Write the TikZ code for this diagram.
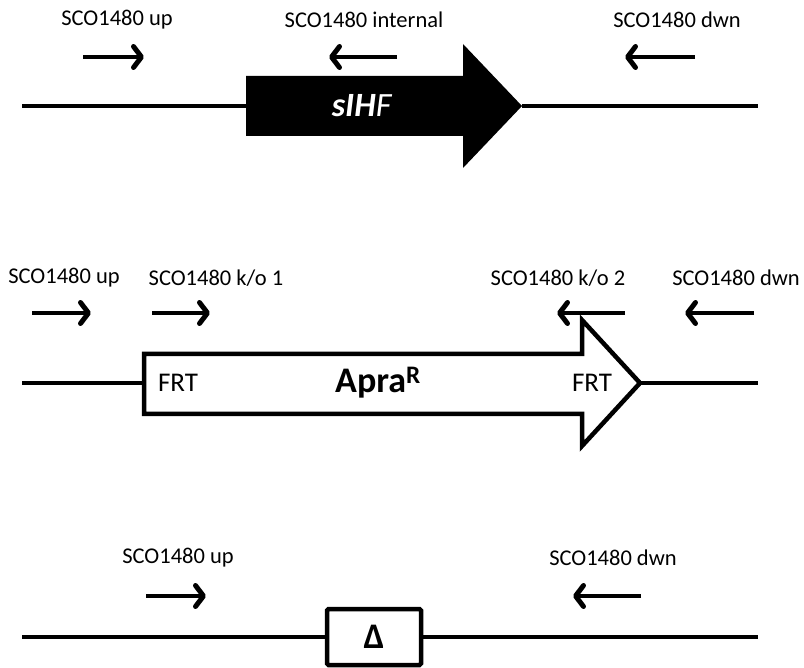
\documentclass[tikz,border=0pt]{standalone}
\usepackage{fontspec}
\setmainfont{Carlito}
\usetikzlibrary{arrows.meta}
\tikzset{
  lbl/.style={font=\fontsize{22.5}{26}\selectfont, inner sep=0pt},
  primer/.style={line width=4.5pt, -{Straight Barb[length=8pt,width=21pt,round,line width=5pt]}},
  dna/.style={line width=4.5pt},
  genebox/.style={line width=4.5pt, line join=miter},
}
\begin{document}
\begin{tikzpicture}[x=1pt,y=-1pt]
\useasboundingbox (0,0) rectangle (804,668);

% ---------- top: wild type ----------
\node[lbl] (t1) at (117,20) {SCO1480 up};
\node[lbl] (t2) at (364,20) {SCO1480 internal};
\node[lbl] (t3) at (677,20) {SCO1480 dwn};
\coordinate (pa1) at (83,57);  \coordinate (pb1) at (144,57);
\coordinate (pa2) at (397,57); \coordinate (pb2) at (329,57);
\coordinate (pa3) at (695,57); \coordinate (pb3) at (625,57);
\draw[primer] (pa1) -- (pb1);
\draw[primer] (pa2) -- (pb2);
\draw[primer] (pa3) -- (pb3);

\coordinate (tl) at (22,106);  \coordinate (tgs) at (246,106);
\coordinate (tge) at (522,106); \coordinate (tr) at (758,106);
\draw[dna] (tl) -- (tgs);
\draw[dna] (tge) -- (tr);
\fill (246,76) -- (463,76) -- (463,44) -- (tge) -- (463,168) -- (463,136) -- (246,136) -- cycle;
\node[inner sep=0pt, text=white, font=\fontsize{34}{38}\selectfont] (slhf) at (362,106) {\textbf{\textit{sIH}}\textit{F}};

% ---------- middle: disruption ----------
\node[lbl] (m1) at (64,278) {SCO1480 up};
\node[lbl] (m2) at (216,278) {SCO1480 k/o 1};
\node[lbl] (m3) at (558,278) {SCO1480 k/o 2};
\node[lbl] (m4) at (736,278) {SCO1480 dwn};
\coordinate (qa1) at (32,313);  \coordinate (qb1) at (91,313);
\coordinate (qa2) at (152,313); \coordinate (qb2) at (210,313);
\coordinate (qa3) at (625,313); \coordinate (qb3) at (557,313);
\coordinate (qa4) at (754,313); \coordinate (qb4) at (685,313);
\draw[primer] (qa1) -- (qb1);
\draw[primer] (qa2) -- (qb2);
\draw[primer] (qa3) -- (qb3);
\draw[primer] (qa4) -- (qb4);

\coordinate (ml) at (22,383);  \coordinate (mgs) at (144,383);
\coordinate (mge) at (640,383); \coordinate (mr) at (758,383);
\draw[dna] (ml) -- (mgs);
\draw[dna] (mge) -- (mr);
\draw[genebox] (144,354) -- (582,354) -- (582,320) -- (mge) -- (582,446) -- (582,414) -- (144,414) -- cycle;
\node[inner sep=0pt, font=\fontsize{27}{30}\selectfont] (frt1) at (178,383) {FRT};
\node[inner sep=0pt, font=\fontsize{27}{30}\selectfont] (frt2) at (592,383) {FRT};
\node[inner sep=0pt, font=\fontsize{36}{40}\selectfont\bfseries] (apra) at (378,383) {Apra\textsuperscript{R}};

% ---------- bottom: deletion ----------
\node[lbl] (b1) at (178,558) {SCO1480 up};
\node[lbl] (b2) at (613,558) {SCO1480 dwn};
\coordinate (ra1) at (146,596); \coordinate (rb1) at (206,596);
\coordinate (ra2) at (641,596); \coordinate (rb2) at (573,596);
\draw[primer] (ra1) -- (rb1);
\draw[primer] (ra2) -- (rb2);

\node[draw, line width=4.5pt, rounded corners=1.5pt, minimum width=94pt, minimum height=56pt, inner sep=0pt,
      font=\fontsize{36}{38}\selectfont\bfseries] (delta) at (374,637) {Δ};
\coordinate (bl) at (22,637); \coordinate (br) at (758,637);
\draw[dna] (bl) -- (delta.west);
\draw[dna] (delta.east) -- (br);
\end{tikzpicture}
\end{document}
